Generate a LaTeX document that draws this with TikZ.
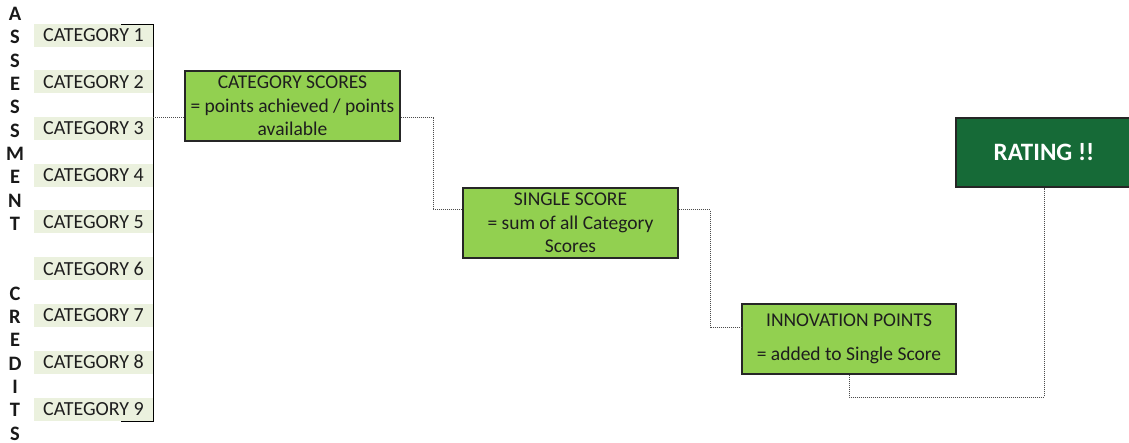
\documentclass[tikz,border=0pt]{standalone}
\usepackage{fontspec}
\setmainfont{Carlito}
\definecolor{catfill}{HTML}{EBF1DE}
\definecolor{boxgreen}{HTML}{92D050}
\definecolor{darkgreen}{HTML}{166A37}
\definecolor{txt}{HTML}{1E1E1E}
\begin{document}
\begin{tikzpicture}[x=1pt,y=-1pt,
  catbox/.style={fill=catfill,minimum width=119pt,minimum height=23pt,inner sep=0pt,text=txt,font=\fontsize{20}{23.5}\selectfont},
  scorebox/.style={fill=boxgreen,draw=black!85,line width=1.3pt,minimum width=215pt,minimum height=70pt,inner sep=0pt,align=center,text=txt,font=\fontsize{19.5}{23.5}\selectfont},
  ratingbox/.style={fill=darkgreen,draw=black!85,line width=1.3pt,minimum width=176pt,minimum height=69pt,inner sep=0pt,text=white,font=\fontsize{25}{30}\selectfont\bfseries},
  letter/.style={inner sep=0pt,text=black!90,font=\fontsize{20.5}{23}\selectfont\bfseries},
  link/.style={densely dotted,line width=1pt,draw=black!70},
  bracket/.style={line width=0.9pt,draw=black}]
\useasboundingbox (0,0) rectangle (1129,443);
% vertical title letters
\foreach \l [count=\i from 0] in {A,S,S,E,S,S,M,E,N,T,{},{},C,R,E,D,I,T,S}{
  \node[letter] (let\i) at (15,{14+23.3*\i}) {\l};
}
% category boxes
\foreach \i/\y in {1/35.5,2/82,3/128.5,4/175.5,5/222,6/269,7/315.5,8/362,9/409}{
  \node[catbox] (c\i) at (93.5,\y) {CATEGORY \i};
}
% bracket
\coordinate (btl) at (121,24);
\coordinate (btr) at (153,24);
\coordinate (bbr) at (153,421);
\coordinate (bbl) at (121,421);
\coordinate (bmid) at (153,118);
\draw[bracket] (btl) -- (btr) -- (bbr) -- (bbl);
% score boxes
\node[scorebox] (cs) at (292.5,106) {CATEGORY SCORES\\= points achieved / points\\available};
\node[scorebox] (ss) at (570.5,223) {SINGLE SCORE\\= sum of all Category\\Scores};
\node[scorebox,minimum width=214pt] (ip) at (849,339) {INNOVATION POINTS\\[11pt]= added to Single Score};
\node[ratingbox] (rt) at (1044,152.5) {RATING !!};
% connectors
\coordinate (k1) at (433,118);
\coordinate (k2) at (433,210);
\coordinate (k3) at (710,210);
\coordinate (k4) at (710,328);
\coordinate (k5) at (849,397);
\coordinate (k6) at (1044,397);
\draw[link] (bmid) -- (bmid -| cs.west);
\draw[link] (k1 -| cs.east) -- (k1) -- (k2) -- (k2 -| ss.west);
\draw[link] (k3 -| ss.east) -- (k3) -- (k4) -- (k4 -| ip.west);
\draw[link] (ip.south) -- (k5) -- (k6) -- (rt.south);
\end{tikzpicture}
\end{document}
